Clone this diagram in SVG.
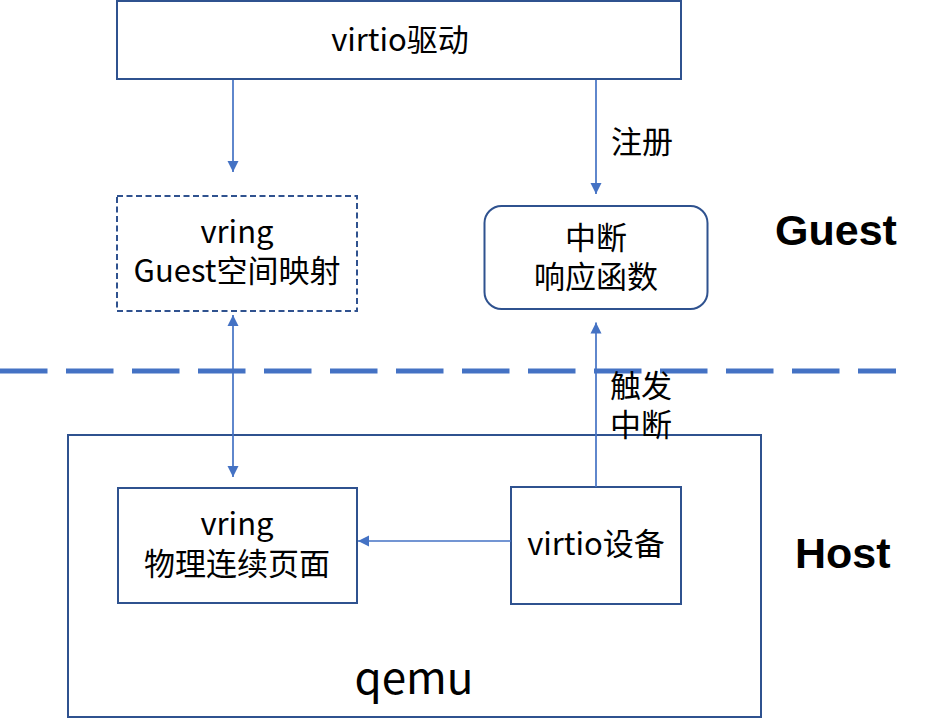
<svg xmlns="http://www.w3.org/2000/svg" width="943" height="719" viewBox="0 0 943 719">
<style>
.box{fill:#fff;stroke:#2F528F;stroke-width:2}
.dash{stroke-dasharray:6 3.5}
.t{font-family:"Noto Sans CJK SC","Noto Sans",sans-serif;font-size:31px;fill:#000}
.c{text-anchor:middle}
.big{font-family:"Liberation Sans",Arial,sans-serif;font-weight:bold;font-size:43px;fill:#000}
.conn{stroke:#4472C4;stroke-width:1.7;fill:none}
</style>
<defs>
<marker id="ah" markerUnits="userSpaceOnUse" markerWidth="12" markerHeight="12" refX="11" refY="5.5" orient="auto-start-reverse" viewBox="0 0 12 11">
<path d="M0,0 L11,5.5 L0,11 z" fill="#4472C4"/>
</marker>
</defs>
<rect width="943" height="719" fill="#fff"/>
<line x1="0" y1="371" x2="896" y2="371" stroke="#4472C4" stroke-width="5" stroke-dasharray="47.5 18.5"/>
<g id="qemu">
<rect class="box" x="68" y="435" width="693" height="282"/>
<text class="t c" x="414" y="694" style="font-size:44px">qemu</text>
</g>
<g id="virtio-driver">
<rect class="box" x="117" y="1" width="564" height="78"/>
<text class="t c" x="400" y="51">virtio驱动</text>
</g>
<g id="vring-guest">
<rect class="box dash" x="117" y="196" width="240" height="115"/>
<text class="t c" x="237" y="243">vring</text>
<text class="t c" x="237" y="281.5">Guest空间映射</text>
</g>
<g id="irq-handler">
<rect class="box" x="484.5" y="206" width="223" height="103" rx="17" ry="17"/>
<text class="t c" x="596" y="249">中断</text>
<text class="t c" x="596" y="288">响应函数</text>
</g>
<g id="vring-phys">
<rect class="box" x="118" y="488" width="239" height="115"/>
<text class="t c" x="237" y="535">vring</text>
<text class="t c" x="237" y="575">物理连续页面</text>
</g>
<g id="virtio-device">
<rect class="box" x="511" y="487" width="170" height="117"/>
<text class="t c" x="596" y="555">virtio设备</text>
</g>
<g id="connectors">
<line class="conn" x1="233" y1="80" x2="233" y2="172" marker-end="url(#ah)"/>
<line class="conn" x1="596" y1="80" x2="596" y2="194" marker-end="url(#ah)"/>
<line class="conn" x1="233" y1="315" x2="233" y2="477" marker-start="url(#ah)" marker-end="url(#ah)"/>
<line class="conn" x1="596" y1="487" x2="596" y2="322.5" marker-end="url(#ah)"/>
<line class="conn" x1="511" y1="541" x2="358" y2="541" marker-end="url(#ah)"/>
<text class="t" x="611" y="153">注册</text>
<text class="t" x="610" y="397">触发</text>
<text class="t" x="610" y="436">中断</text>
</g>
<g id="labels">
<text class="big" x="775" y="245">Guest</text>
<text class="big" x="795" y="568">Host</text>
</g>
</svg>
